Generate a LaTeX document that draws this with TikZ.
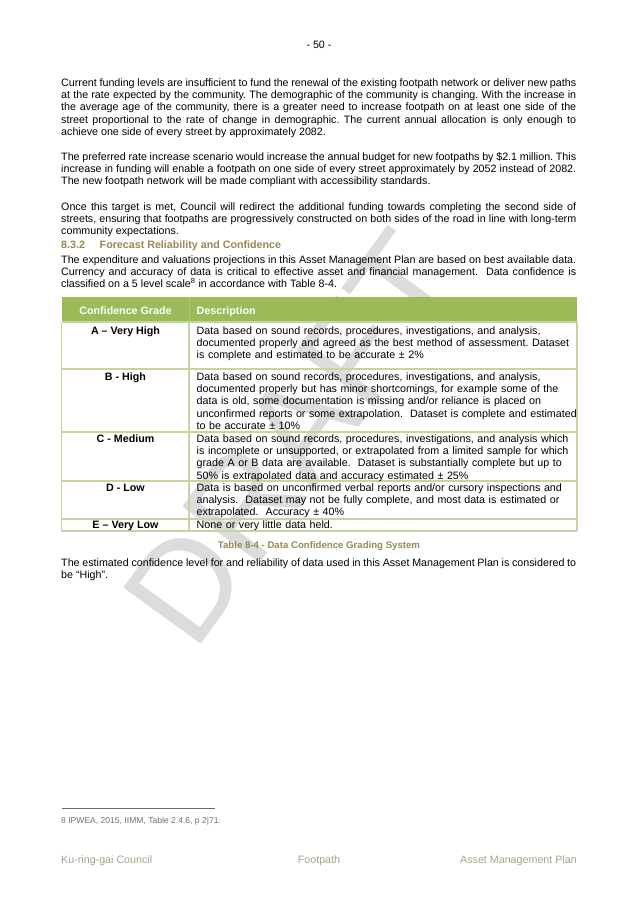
\documentclass[tikz,border=0pt]{standalone}
\usepackage{fontspec}
\setmainfont{Liberation Sans}
\definecolor{hdgreen}{HTML}{9BBB59}
\definecolor{gridgreen}{HTML}{C3D69B}
\definecolor{olivetxt}{HTML}{948A54}
\definecolor{footgray}{HTML}{A6A08E}
\definecolor{wmgray}{HTML}{DCDCDC}
\tikzset{
  bodytxt/.style={anchor=north west, inner sep=0pt, text width=481.3pt, align=justify,
    font=\fontsize{10}{11.5}\selectfont},
  oneline/.style={anchor=base west, inner sep=0pt, font=\fontsize{10}{11.5}\selectfont},
  gradetxt/.style={anchor=base, inner sep=0pt, font=\bfseries\fontsize{10}{11.5}\selectfont},
  desctxt/.style={anchor=north west, inner sep=0pt, text width=360pt, align=left,
    font=\fontsize{10}{11.5}\selectfont},
  hdtxt/.style={anchor=base, inner sep=0pt, text=white, font=\bfseries\fontsize{10}{11.5}\selectfont},
  gridline/.style={draw=gridgreen, line width=1pt},
  foottxt/.style={inner sep=0pt, text=footgray, font=\fontsize{10}{11.5}\selectfont},
}
\begin{document}
\frenchspacing
\tolerance=9999
\hyphenpenalty=10000
\begin{tikzpicture}[x=0.9345pt, y=-0.9345pt]
\useasboundingbox[fill=white] (0,0) rectangle (637,901);
% watermark
\node[rotate=54, text=wmgray, font=\fontsize{130}{130}\selectfont, inner sep=0pt] (wm) at (292,438) {DRAFT};
% page number
\node[anchor=base, inner sep=0pt, font=\fontsize{10}{11.5}\selectfont] (pnum) at (319,49) {- 50 -};
% paragraphs
\node[bodytxt] (p1) at (61,77.4) {\strut Current funding levels are insufficient to fund the renewal of the existing footpath network or deliver new paths\linebreak
at the rate expected by the community. The demographic of the community is changing. With the increase in\linebreak
the average age of the community, there is a greater need to increase footpath on at least one side of the\linebreak
street proportional to the rate of change in demographic. The current annual allocation is only enough to\linebreak
achieve one side of every street by approximately 2082.};
\node[bodytxt] (p2) at (61,151.4) {\strut The preferred rate increase scenario would increase the annual budget for new footpaths by \$2.1 million. This\linebreak
increase in funding will enable a footpath on one side of every street approximately by 2052 instead of 2082.\linebreak
The new footpath network will be made compliant with accessibility standards.};
\node[bodytxt] (p3) at (61,201.4) {\strut Once this target is met, Council will redirect the additional funding towards completing the second side of\linebreak
streets, ensuring that footpaths are progressively constructed on both sides of the road in line with long-term\linebreak
community expectations.};
% heading
\node[oneline, text=olivetxt, font=\bfseries\fontsize{10}{11.5}\selectfont] (hnum) at (61,248) {8.3.2};
\node[oneline, text=olivetxt, font=\bfseries\fontsize{10}{11.5}\selectfont] (htitle) at (99.5,248) {Forecast Reliability and Confidence};
\node[bodytxt] (p4) at (61,254.4) {\strut The expenditure and valuations projections in this Asset Management Plan are based on best available data.\linebreak
Currency and accuracy of data is critical to effective asset and financial management.~ Data confidence is\linebreak
classified on a 5 level scale\textsuperscript{8} in accordance with Table 8-4.};
% table
\fill[hdgreen] (61.5,297) rectangle (577,322);
\draw[gridline] (61.5,322) -- (577,322);
\draw[gridline] (61.5,369) -- (577,369);
\draw[gridline] (61.5,432) -- (577,432);
\draw[gridline] (61.5,481) -- (577,481);
\draw[gridline] (61.5,519) -- (577,519);
\draw[gridline] (61.5,531) -- (577,531);
\draw[gridline] (61.5,322) -- (61.5,531);
\draw[gridline] (189,322) -- (189,531);
\draw[gridline] (577,322) -- (577,531);
\draw[draw=hdgreen!80!white, line width=0.8pt] (189,297) -- (189,322);
\node[hdtxt] (hgrade) at (125.5,314) {Confidence Grade};
\node[hdtxt, anchor=base west] (hdesc) at (196.5,314) {Description};
\node[gradetxt] (ga) at (125.5,334) {A – Very High};
\node[gradetxt] (gb) at (125.5,380) {B - High};
\node[gradetxt] (gc) at (125.5,442) {C - Medium};
\node[gradetxt] (gd) at (125.5,491) {D - Low};
\node[gradetxt] (ge) at (125.5,528) {E – Very Low};
\node[desctxt] (da) at (196.5,325.4) {\strut Data based on sound records, procedures, investigations, and analysis,\\
documented properly and agreed as the best method of assessment. Dataset\\
is complete and estimated to be accurate ± 2\%};
\node[desctxt] (db) at (196.5,371.4) {\strut Data based on sound records, procedures, investigations, and analysis,\\
documented properly but has minor shortcomings, for example some of the\\
data is old, some documentation is missing and/or reliance is placed on\\
unconfirmed reports or some extrapolation.~ Dataset is complete and estimated\\
to be accurate ± 10\%};
\node[desctxt] (dc) at (196.5,433.4) {\strut Data based on sound records, procedures, investigations, and analysis which\\
is incomplete or unsupported, or extrapolated from a limited sample for which\\
grade A or B data are available.~ Dataset is substantially complete but up to\\
50\% is extrapolated data and accuracy estimated ± 25\%};
\node[desctxt] (dd) at (196.5,482.4) {\strut Data is based on unconfirmed verbal reports and/or cursory inspections and\\
analysis.~ Dataset may not be fully complete, and most data is estimated or\\
extrapolated.~ Accuracy ± 40\%};
\node[desctxt] (de) at (196.5,519.4) {\strut None or very little data held.};
% caption
\node[anchor=base, inner sep=0pt, text=olivetxt, font=\bfseries\fontsize{9}{10.5}\selectfont] (cap) at (319,548) {Table 8-4 - Data Confidence Grading System};
% final paragraph
\node[bodytxt] (p5) at (61,557.4) {\strut The estimated confidence level for and reliability of data used in this Asset Management Plan is considered to\linebreak
be “High”.};
% footnote
\coordinate (fnl) at (61.5,808);
\coordinate (fnr) at (215,808);
\draw[draw=black!60, line width=0.5pt] (fnl) -- (fnr);
\node[anchor=base west, inner sep=0pt, text=black!55, font=\fontsize{8}{9}\selectfont] (fn) at (61,823) {8 IPWEA, 2015, IIMM, Table 2.4.6, p 2|71.};
% footer
\node[foottxt, anchor=base west] (fl) at (61,863) {Ku-ring-gai Council};
\node[foottxt, anchor=base] (fc) at (319,863) {Footpath};
\node[foottxt, anchor=base east] (fr) at (577,863) {Asset Management Plan};
\end{tikzpicture}
\end{document}
